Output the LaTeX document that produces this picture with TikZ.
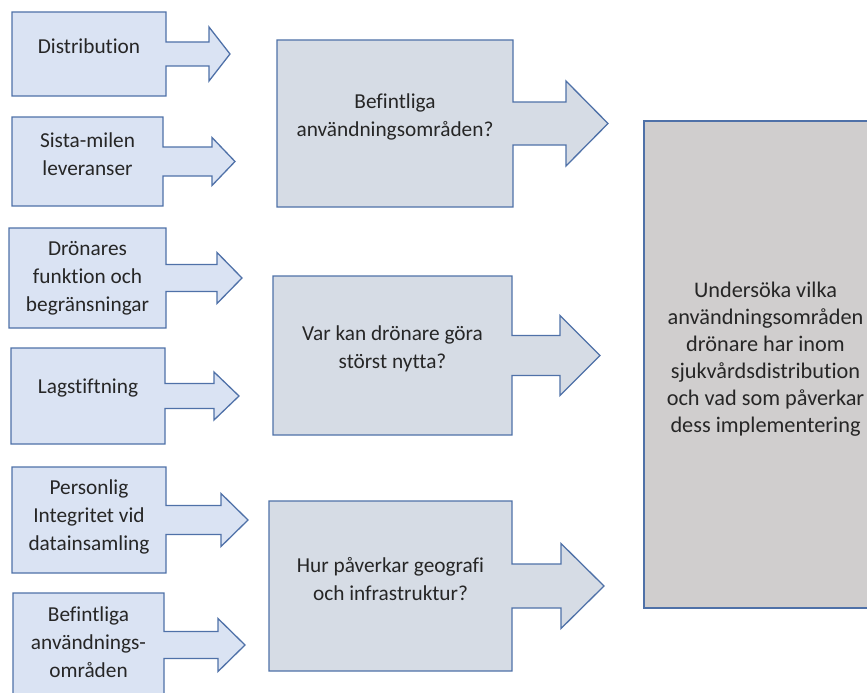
\documentclass[tikz,border=0pt]{standalone}
\usepackage{fontspec}
\setmainfont{Carlito}[Ligatures=CommonOff]
\usetikzlibrary{calc}

\definecolor{boxline}{HTML}{4F71A8}
\definecolor{leftfill}{HTML}{DAE3F3}
\definecolor{midfill}{HTML}{D6DCE5}
\definecolor{goalfill}{HTML}{D0CECE}
\definecolor{textcol}{HTML}{262626}

\tikzset{
    frame/.style={inner sep=0pt, outer sep=0pt},
    boxtext/.style={align=center, text=textcol, inner sep=0pt, font=\fontsize{21.3}{28}\selectfont},
    arrowline/.style={draw=boxline, line width=1.3pt, line join=miter},
}

\newcommand{\arrowbox}[6]{%
    \path[arrowline, fill=#6] (#1.north west) -- (#1.north east) -- ($(#1.east)+(0,-#2)$) -- ++(#3,0) -- ++(0,#2-#4) -- ($(#1.east)+(#3+#5,0)$) -- ($(#1.east)+(#3,#4)$) -- ++(0,#2-#4) -- ($(#1.east)+(0,#2)$) -- (#1.south east) -- (#1.south west) -- cycle;%
}

\begin{document}
\begin{tikzpicture}[x=1pt, y=-1pt]
    \useasboundingbox (0,0) rectangle (867,693);
    \clip (0,0) rectangle (867,693);

    \node[frame, minimum width=154, minimum height=84] (dist) at (89,54) {};
    \node[frame, minimum width=151, minimum height=89] (sista) at (87.5,161.5) {};
    \node[frame, minimum width=157, minimum height=100] (dron) at (87.5,278) {};
    \node[frame, minimum width=154, minimum height=96] (lag) at (88,396) {};
    \node[frame, minimum width=154, minimum height=106] (pers) at (89,520) {};
    \node[frame, minimum width=151, minimum height=104] (befl) at (88.5,645) {};

    \node[frame, minimum width=236, minimum height=167] (befq) at (395,123.5) {};
    \node[frame, minimum width=239, minimum height=159] (nytta) at (392.5,355.5) {};
    \node[frame, minimum width=243, minimum height=170] (geo) at (390.5,586) {};

    \arrowbox{dist}{12}{43}{27}{21}{leftfill}
    \arrowbox{sista}{14.5}{49}{24}{23}{leftfill}
    \arrowbox{dron}{13.5}{51}{25.5}{25}{leftfill}
    \arrowbox{lag}{12.5}{49}{24}{25}{leftfill}
    \arrowbox{pers}{14.5}{55}{26.5}{27}{leftfill}
    \arrowbox{befl}{13.5}{54}{26.5}{27}{leftfill}

    \arrowbox{befq}{21.5}{53}{42.5}{42}{midfill}
    \arrowbox{nytta}{20}{48}{40}{40}{midfill}
    \arrowbox{geo}{22}{49}{42.5}{43}{midfill}

    \node[frame, arrowline, fill=goalfill, minimum width=243, minimum height=487] (goal) at (765.5,364.5) {};

    \node[boxtext] (dist-t) at ([yshift=8pt]dist.center) {Distribution};
    \node[boxtext] (sista-t) at ([yshift=7pt]sista.center) {Sista-milen\\leveranser};
    \node[boxtext] (dron-t) at (dron.center) {Drönares\\funktion och\\begränsningar};
    \node[boxtext] (lag-t) at ([yshift=8pt]lag.center) {Lagstiftning};
    \node[boxtext] (pers-t) at ([yshift=3pt]pers.center) {Personlig\\Integritet vid\\datainsamling};
    \node[boxtext] (befl-t) at ([yshift=3pt]befl.center) {Befintliga\\användnings-\\områden};

    \node[boxtext] (befq-t) at ([yshift=7pt]befq.center) {Befintliga\\användningsområden?};
    \node[boxtext] (nytta-t) at ([yshift=7pt]nytta.center) {Var kan drönare göra\\störst nytta?};
    \node[boxtext] (geo-t) at ([yshift=7pt]geo.center) {Hur påverkar geografi\\och infrastruktur?};

    \node[boxtext, font=\fontsize{22.3}{27}\selectfont] (goal-t) at ([yshift=5pt]goal.center) {Undersöka vilka\\användningsområden\\drönare har inom\\sjukvårdsdistribution\\och vad som påverkar\\dess implementering};
\end{tikzpicture}
\end{document}
